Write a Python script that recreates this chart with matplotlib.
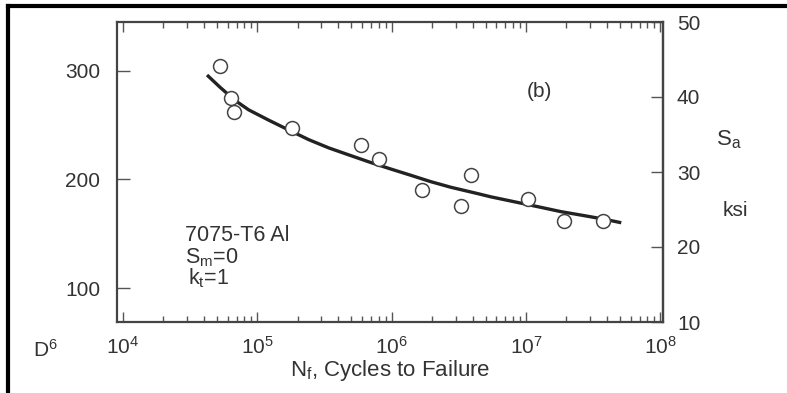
import numpy as np
import matplotlib.pyplot as plt
from matplotlib.lines import Line2D

plt.rcParams['font.family'] = ['Liberation Sans', 'DejaVu Sans']
plt.rcParams['mathtext.fontset'] = 'custom'
plt.rcParams['mathtext.rm'] = 'Liberation Sans'
plt.rcParams['mathtext.it'] = 'Liberation Sans'

# datos de ensayo (7075-T6 Al), Sa en MPa
ciclos = [5.3e4, 6.4e4, 6.65e4, 1.8e5, 5.9e5, 8.0e5,
          1.67e6, 3.3e6, 3.9e6, 1.03e7, 1.93e7, 3.73e7]
sa_mpa = [304, 275, 262, 247, 232, 219,
          190, 176, 204, 182, 162, 162]

# curva ajustada
curva_n = [4.22e4, 5.30e4, 6.85e4, 8.61e4, 1.21e5, 1.71e5, 2.41e5, 3.40e5,
           4.94e5, 6.97e5, 9.84e5, 1.39e6, 1.95e6, 2.76e6, 4.36e6, 5.48e6,
           8.18e6, 1.22e7, 1.82e7, 2.72e7, 3.84e7, 5.12e7]
curva_s = [296.0, 284.5, 272.5, 264.0, 254.6, 245.5, 236.6, 229.0,
           222.0, 215.6, 209.6, 203.8, 198.0, 192.8, 187.0, 184.0,
           179.5, 175.0, 170.4, 166.7, 163.4, 160.2]

mpa_ticks = [100, 200, 300]
ksi_ticks = [10, 20, 30, 40, 50]

KSI = 6.8948
gris = '#333333'

fig = plt.figure(figsize=(7.87, 3.93), dpi=100)
ax = fig.add_axes([117/787, 1 - 322/393, 546/787, 300/393])

ax.plot(curva_n, curva_s, color='#222222', lw=2.4, solid_capstyle='butt',
        solid_joinstyle='round', zorder=2)
ax.plot(ciclos, sa_mpa, 'o', ms=10, mfc='white', mec='#444444', mew=1.1, zorder=3)

ax.set_xscale('log')
ax.set_xlim(10**3.955, 10**8.02)
ax.set_ylim(10 * KSI, 50 * KSI)
ax.set_yticks(mpa_ticks)

for s in ax.spines.values():
    s.set_color('#444444')
    s.set_linewidth(1.6)

ax.tick_params(which='both', direction='in', top=True, colors='#555555', labelcolor=gris)
ax.tick_params(axis='y', which='major', length=9, width=1, labelsize=15, pad=12)
ax.tick_params(axis='x', which='major', length=7, width=1, labelsize=15, pad=10)
ax.tick_params(axis='x', which='minor', length=4, width=1)

sec = ax.secondary_yaxis('right', functions=(lambda m: m / KSI, lambda k: k * KSI))
sec.set_yticks(ksi_ticks)
sec.set_yticklabels([str(k) for k in ksi_ticks])
sec.tick_params(direction='in', length=9, width=1, labelsize=15, pad=10,
                colors='#555555', labelcolor=gris)
sec.spines['right'].set_color('#444444')
sec.spines['right'].set_linewidth(1.6)

ax.set_xlabel('N$_{\\mathrm{f}}$, Cycles to Failure', fontsize=16, color=gris, labelpad=0)

fig.text(729/787, 1 - 140/393, 'S$_{\\mathrm{a}}$', fontsize=16, color=gris, ha='center', va='center')
fig.text(735/787, 1 - 210/393, 'ksi', fontsize=15, color=gris, ha='center', va='center')
fig.text(33/787, 1 - 350/393, 'D$^{6}$', fontsize=15, color=gris, ha='left', va='center')

ax.text(0.773, 0.767, '(b)', transform=ax.transAxes, fontsize=15, color=gris,
        ha='center', va='center')
ax.text(0.124, 0.287, '7075-T6 Al', transform=ax.transAxes, fontsize=15.5, color=gris,
        ha='left', va='center')
ax.text(0.124, 0.215, 'S$_{\\mathrm{m}}$=0', transform=ax.transAxes, fontsize=15.5, color=gris,
        ha='left', va='center')
ax.text(0.13, 0.145, 'k$_{\\mathrm{t}}$=1', transform=ax.transAxes, fontsize=15.5, color=gris,
        ha='left', va='center')

# marco negro exterior (arriba e izquierda)
fig.add_artist(Line2D([8/787, 1], [1 - 6/393, 1 - 6/393], color='black', lw=3))
fig.add_artist(Line2D([8/787, 8/787], [0, 1 - 6/393], color='black', lw=3))

fig.savefig('out.png', dpi=100)
